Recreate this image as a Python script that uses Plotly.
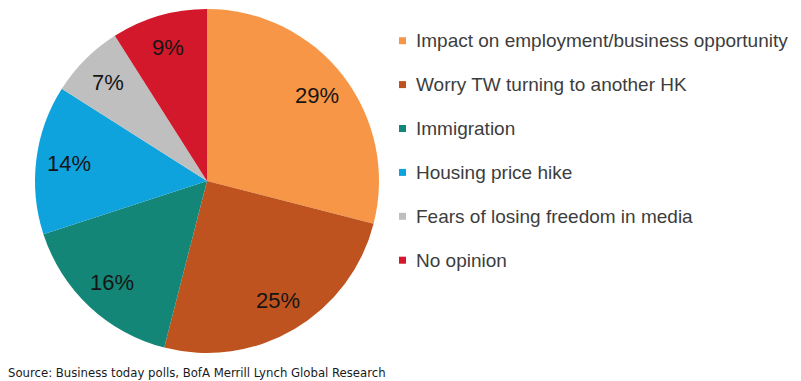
import math
import plotly.graph_objects as go

# Survey responses (share of respondents, %)
categories = [
    "Impact on employment/business opportunity",
    "Worry TW turning to another HK",
    "Immigration",
    "Housing price hike",
    "Fears of losing freedom in media",
    "No opinion",
]
shares = [29, 25, 16, 14, 7, 9]
colors = ["#F79646", "#BE531F", "#138677", "#0FA3DE", "#BFBFBF", "#D2182A"]
source_note = "Source: Business today polls, BofA Merrill Lynch Global Research"

W, H = 801, 381
cx, cy, r = 207, 181, 172  # pie centre and radius in pixels (from top-left)

fig = go.Figure()
fig.add_trace(go.Pie(
    labels=categories,
    values=shares,
    sort=False,
    direction="clockwise",
    rotation=0,
    marker=dict(colors=colors, line=dict(width=0)),
    textinfo="none",
    hoverinfo="label+percent",
    showlegend=False,
    domain=dict(x=[(cx - r) / W, (cx + r) / W], y=[(H - cy - r) / H, (H - cy + r) / H]),
))

annotations = []
shapes = []

# Percentage labels placed along each slice's mid-angle
total = sum(shares)
cum = 0
for v in shares:
    mid = (cum + v / 2) / total * 2 * math.pi
    cum += v
    rr = 0.81 * r
    px = cx + rr * math.sin(mid)
    py = cy - rr * math.cos(mid)
    annotations.append(dict(
        x=px / W, y=1 - py / H, xref="paper", yref="paper",
        text=f"{v}%", showarrow=False,
        font=dict(family="Liberation Sans, Arial", size=22, color="#151515"),
        xanchor="center", yanchor="middle",
    ))

# Legend on the right
row0, step = 40.7, 43.9
for i, (name, col) in enumerate(zip(categories, colors)):
    yc = row0 + i * step
    shapes.append(dict(
        type="rect", xref="paper", yref="paper",
        x0=399 / W, x1=406 / W, y0=1 - (yc + 3.5) / H, y1=1 - (yc - 3.5) / H,
        fillcolor=col, line=dict(width=0),
    ))
    annotations.append(dict(
        x=414 / W, y=1 - yc / H, xref="paper", yref="paper",
        text=name, showarrow=False, xanchor="left", yanchor="middle",
        font=dict(family="Liberation Sans, Arial", size=19, color="#3d3d3d"),
    ))

# Source note
annotations.append(dict(
    x=6 / W, y=1 - 372.5 / H, xref="paper", yref="paper",
    text=source_note, showarrow=False, xanchor="left", yanchor="middle",
    font=dict(family="DejaVu Sans Condensed, Liberation Sans Narrow, Liberation Sans", size=13, color="#1a1a1a"),
))

fig.update_layout(
    width=W, height=H,
    margin=dict(l=0, r=0, t=0, b=0),
    paper_bgcolor="white", plot_bgcolor="white",
    annotations=annotations, shapes=shapes,
    showlegend=False,
)

fig.write_html("out.html")
